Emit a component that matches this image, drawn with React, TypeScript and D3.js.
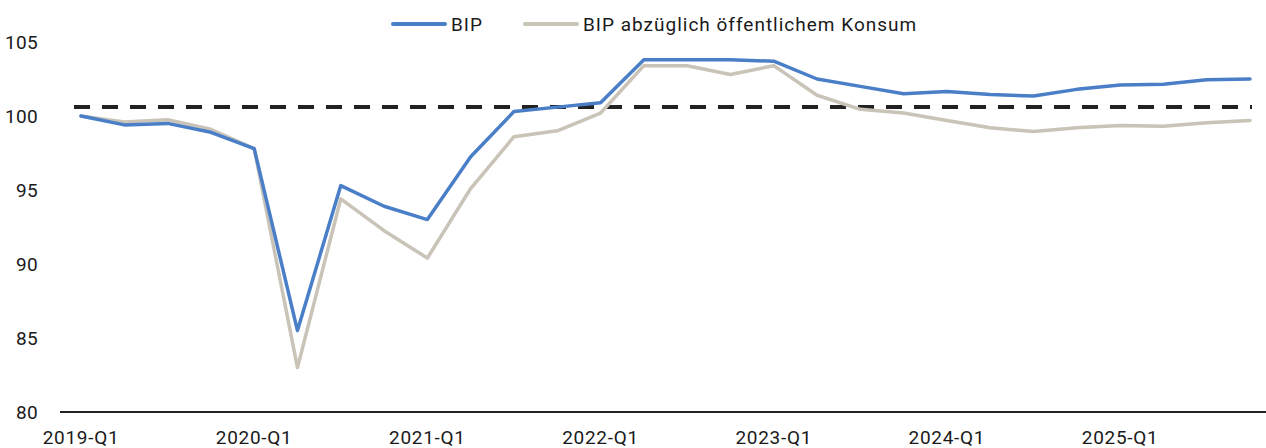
import React from 'react';
import * as d3 from 'd3';

const quarters: string[] = [];
for (let y = 2019; y <= 2025; y++) for (let q = 1; q <= 4; q++) quarters.push(`${y}-Q${q}`);

const bip = [100.0, 99.4, 99.5, 98.9, 97.8, 85.5, 95.3, 93.9, 93.0, 97.25, 100.3, 100.6, 100.9, 103.8, 103.8, 103.8, 103.7, 102.5, 102.0, 101.5, 101.65, 101.45, 101.35, 101.8, 102.1, 102.15, 102.45, 102.5];
const bipOhneKonsum = [100.0, 99.6, 99.75, 99.1, 97.8, 83.0, 94.4, 92.25, 90.4, 95.1, 98.6, 99.0, 100.2, 103.4, 103.4, 102.8, 103.4, 101.4, 100.45, 100.2, 99.7, 99.2, 98.95, 99.2, 99.35, 99.3, 99.55, 99.7];
const referenceLevel = 100.6;
const yTicks = [80, 85, 90, 95, 100, 105];
const xTickLabels = ['2019-Q1', '2020-Q1', '2021-Q1', '2022-Q1', '2023-Q1', '2024-Q1', '2025-Q1'];

const series = [
  { name: 'BIP', values: bip, color: '#4a7fc8' },
  { name: 'BIP abzüglich öffentlichem Konsum', values: bipOhneKonsum, color: '#c9c3b8' },
];

const W = 1266;
const H = 448;
const font = 'Roboto, sans-serif';

export default function App() {
  const x = d3.scalePoint<string>().domain(quarters).range([81, 1250]);
  const y = d3.scaleLinear().domain([80, 105]).range([412, 42]);

  const line = d3.line<number>()
    .x((_, i) => x(quarters[i]) as number)
    .y(d => y(d));

  return (
    <svg width={W} height={H} style={{ position: 'absolute', left: 0, top: 0 }} fontFamily={font}>
      {yTicks.map(t => (
        <text key={t} x={38} y={y(t)} dy="0.35em" textAnchor="end" fontSize={19} letterSpacing={0.3} fill="#1a1a1a">{t}</text>
      ))}
      <line x1={60} x2={W} y1={y(80)} y2={y(80)} stroke="#222" strokeWidth={2} />
      {xTickLabels.map(l => (
        <text key={l} x={x(l) as number} y={437} dy="0.35em" textAnchor="middle" fontSize={19} letterSpacing={0.7} fill="#1a1a1a">{l}</text>
      ))}
      <line x1={74} x2={1252} y1={y(referenceLevel)} y2={y(referenceLevel)}
        stroke="#222" strokeWidth={4} strokeDasharray="16 12" />
      {series.slice().reverse().map(s => (
        <path key={s.name} d={line(s.values) || ''} fill="none" stroke={s.color}
          strokeWidth={3.5} strokeLinejoin="round" strokeLinecap="round" />
      ))}
      <g>
        <line x1={393} x2={445} y1={24} y2={24} stroke={series[0].color} strokeWidth={4} strokeLinecap="round" />
        <text x={451} y={24} dy="0.35em" fontSize={19} letterSpacing={1} fill="#1a1a1a">{series[0].name}</text>
        <line x1={525} x2={577} y1={24} y2={24} stroke={series[1].color} strokeWidth={4} strokeLinecap="round" />
        <text x={583} y={24} dy="0.35em" fontSize={19} letterSpacing={1} fill="#1a1a1a">{series[1].name}</text>
      </g>
    </svg>
  );
}
